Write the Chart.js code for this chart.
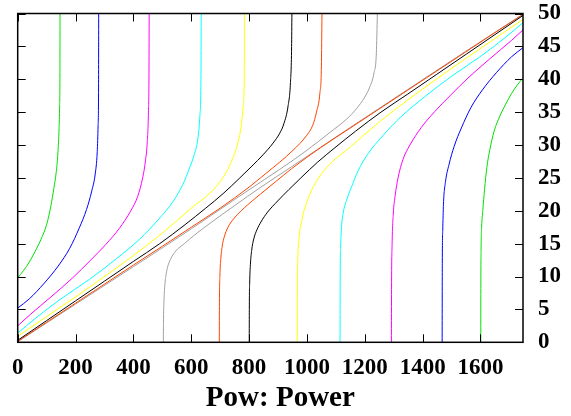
<!DOCTYPE html>
<html>
<head>
<meta charset="utf-8">
<script src="https://cdn.jsdelivr.net/npm/chart.js@4.4.0/dist/chart.umd.min.js"></script>
<style>
  html, body { margin: 0; padding: 0; background: #fff; }
  #wrap { width: 571px; height: 416px; }
</style>
</head>
<body>
<div id="wrap"><canvas id="powChart" width="571" height="416"></canvas></div>
<script>
// axis ticks
const xTicks = [0, 200, 400, 600, 800, 1000, 1200, 1400, 1600];
const yTicks = [0, 5, 10, 15, 20, 25, 30, 35, 40, 45, 50];
const xMax = 1747;
const xTitle = 'Pow: Power';

// upper-left branches (start on the left edge, go vertical at the top)
const greenUpper = [[0,9.8],[20,10.9],[40,12.2],[60,13.8],[80,15.6],[100,17.9],[115,20.8],[125,23.4],[133,25.8],[139,28.8],[143,32.5],[145,36],[146,41],[146.3,50]];
const blueUpper = [[0,5.2],[40,6.6],[92,9.0],[140,11.6],[180,14.3],[213,17.4],[238,20.2],[256,23.0],[268,25.6],[275,29],[278,33],[279.5,38],[280,50]];
const magentaUpper = [[0,2.5],[40,4.1],[115,6.9],[190,9.8],[250,12.4],[305,14.9],[351,17.3],[391,20.0],[415,22.2],[432,25],[442,27.7],[448,30.5],[452,35],[454,42],[454.5,50]];
const cyanUpper = [[0,1.4],[60,3.6],[146,6.5],[249,9.6],[341,12.7],[422,15.7],[485,18.6],[537,21.4],[571,24],[594,26.5],[610,28.5],[623,31],[630,34.5],[633.5,40],[634.5,50]];
const yellowUpper = [[0,0.9],[100,3.9],[200,6.9],[300,10.0],[400,13.2],[500,16.6],[600,20.4],[672,23.0],[712,25.2],[741,27.7],[761,30.3],[773,33],[780,36],[783.5,41],[784,50]];
const blackUpper = [[0,0.3],[100,3.3],[200,6.3],[300,9.3],[400,12.3],[491,15.0],[579,17.9],[650,20.4],[710,22.6],[768,25.0],[810,26.8],[848,28.5],[883,30.3],[906,31.8],[920,33.2],[935,36],[943,39.5],[947,45],[948,50]];
const orangeUpper = [[0,0.15],[100,3.05],[200,5.95],[300,8.85],[400,11.75],[500,14.6],[600,17.5],[700,20.4],[800,23.6],[856,25.6],[906,27.4],[952,29.2],[998,31.4],[1020,33],[1033,35],[1045,38],[1050,42],[1052,50]];
const grayUpper = [[0,0.08],[200,5.8],[400,11.5],[600,17.25],[800,23.2],[906,26.3],[1000,29.2],[1079,31.9],[1136,33.9],[1171,35.5],[1200,37.3],[1217,38.8],[1232,41],[1240,44],[1243.5,50]];

// lower-right branches (vertical at the bottom, run to the right edge)
const greenLower = [[1601,0],[1601.3,9],[1602,14],[1604,17.5],[1608,20],[1614,23.2],[1622,26.6],[1632,29.2],[1647,32.1],[1667,34.4],[1687,36.2],[1707,37.8],[1727,39.1],[1747,40.2]];
const blueLower = [[1467.5,0],[1468,12],[1469.5,17],[1472,21],[1479,24.4],[1491,27],[1509,29.8],[1534,32.6],[1567,35.7],[1607,38.4],[1655,41],[1707,43.4],[1747,44.8]];
const magentaLower = [[1292,0],[1292.5,8],[1294.5,15],[1298.5,19.5],[1305,22.3],[1315,25],[1332,27.8],[1356,30],[1396,32.7],[1442,35.1],[1497,37.6],[1557,40.2],[1632,43.1],[1707,45.9],[1747,47.5]];
const cyanLower = [[1114.5,0],[1115,10],[1116.5,14.5],[1119.5,17.5],[1125,19.6],[1137,21.6],[1153,23.5],[1176,26],[1210,28.6],[1262,31.4],[1325,34.3],[1406,37.3],[1498,40.4],[1601,43.5],[1687,46.4],[1747,48.6]];
const yellowLower = [[966.5,0],[966.8,6],[967.3,10],[968.3,12.5],[970,14.3],[972.5,15.8],[976,17.1],[981,18.3],[988,19.7],[1008,22.3],[1037,24.8],[1077,27],[1147,29.6],[1247,33.4],[1347,36.8],[1447,40],[1547,43.1],[1647,46.1],[1747,49.1]];
const blackLower = [[800.5,0],[800.8,5],[802,9],[804.5,11.8],[809,14],[816,15.7],[827,17.1],[841,18.3],[864,19.8],[899,21.5],[937,23.2],[979,25.0],[1037,27.4],[1097,29.6],[1168,32.1],[1256,35.0],[1347,37.7],[1447,40.7],[1547,43.7],[1647,46.7],[1747,49.7]];
const orangeLower = [[697,0],[697.5,6],[699,10],[702,12.6],[707,14.6],[714,16],[727,17.5],[749,18.9],[795,20.9],[841,22.6],[891,24.4],[947,26.4],[1047,29.6],[1147,32.5],[1247,35.4],[1347,38.3],[1447,41.2],[1547,44.1],[1647,47],[1747,49.85]];
const grayLower = [[503.5,0],[504,3],[505.5,6],[508,8.3],[512,10],[518,11.4],[528,12.6],[547,13.9],[576,15.0],[611,16.3],[668,18.2],[747,20.7],[841,23.6],[947,26.7],[1147,32.6],[1347,38.4],[1547,44.2],[1747,49.9]];

const curves = [
    [greenUpper, '#00e000'], [blueUpper, '#0000ff'], [magentaUpper, '#ff00ff'], [cyanUpper, '#00ffff'],
    [yellowUpper, '#ffff00'], [blackUpper, '#000000'], [orangeUpper, '#ff4500'], [grayUpper, '#a0a0a0'],
    [greenLower, '#00e000'], [blueLower, '#0000ff'], [magentaLower, '#ff00ff'], [cyanLower, '#00ffff'],
    [yellowLower, '#ffff00'], [blackLower, '#000000'], [orangeLower, '#ff4500'], [grayLower, '#a0a0a0']
];

const fontFamily = "'Liberation Serif', 'Times New Roman', serif";
const labelFont = { family: fontFamily, size: 23, weight: 'bold' };

// frame, inward tick marks and the axis title (gnuplot puts it a bit right of centre)
const frameTicks = {
    id: 'frameTicks',
    afterDatasetsDraw(chart) {
        const { ctx, chartArea: a, scales: { x, y } } = chart;
        ctx.save();
        ctx.strokeStyle = '#000';
        ctx.lineWidth = 1;
        ctx.beginPath();
        xTicks.forEach(v => {
            const px = Math.round(x.getPixelForValue(v)) + 0.5;
            ctx.moveTo(px, a.bottom); ctx.lineTo(px, a.bottom - 8);
            ctx.moveTo(px, a.top); ctx.lineTo(px, a.top + 8);
        });
        yTicks.forEach(v => {
            const py = Math.round(y.getPixelForValue(v)) + 0.5;
            ctx.moveTo(a.left, py); ctx.lineTo(a.left + 8, py);
            ctx.moveTo(a.right, py); ctx.lineTo(a.right - 8, py);
        });
        ctx.stroke();
        ctx.lineWidth = 1.5;
        ctx.strokeRect(a.left, a.top, a.right - a.left, a.bottom - a.top);

        ctx.fillStyle = '#000';
        ctx.font = 'bold 29px ' + fontFamily;
        ctx.textAlign = 'center';
        ctx.textBaseline = 'alphabetic';
        ctx.fillText(xTitle, (a.left + a.right) / 2 + 10, 406);
        ctx.restore();
    }
};

new Chart(document.getElementById('powChart'), {
    type: 'line',
    data: {
        datasets: curves.map(([pts, color]) => ({
            data: pts.map(p => ({ x: p[0], y: p[1] })),
            borderColor: color,
            borderWidth: 1,
            pointRadius: 0,
            fill: false,
            cubicInterpolationMode: 'monotone'
        }))
    },
    options: {
        responsive: false,
        animation: false,
        devicePixelRatio: 1,
        layout: { padding: { left: 17.7, top: 13.5, right: 0, bottom: 0 } },
        plugins: { legend: { display: false }, tooltip: { enabled: false } },
        scales: {
            x: {
                type: 'linear',
                min: 0,
                max: xMax,
                grid: { display: false, drawTicks: false },
                border: { display: false },
                afterBuildTicks: s => { s.ticks = xTicks.map(v => ({ value: v })); },
                afterFit: s => { s.height = 416 - 342.3; s.paddingLeft = 0; s.paddingRight = 0; },
                ticks: { font: labelFont, color: '#000', padding: 12, maxRotation: 0, autoSkip: false, callback: v => String(v) }
            },
            y: {
                type: 'linear',
                position: 'right',
                min: 0,
                max: 50,
                grid: { display: false, drawTicks: false },
                border: { display: false },
                afterBuildTicks: s => { s.ticks = yTicks.map(v => ({ value: v })); },
                afterFit: s => { s.width = 571 - 523; s.paddingTop = 0; s.paddingBottom = 0; },
                ticks: { font: labelFont, color: '#000', padding: 15, autoSkip: false, callback: v => String(v) }
            }
        }
    },
    plugins: [frameTicks]
});
</script>
</body>
</html>
